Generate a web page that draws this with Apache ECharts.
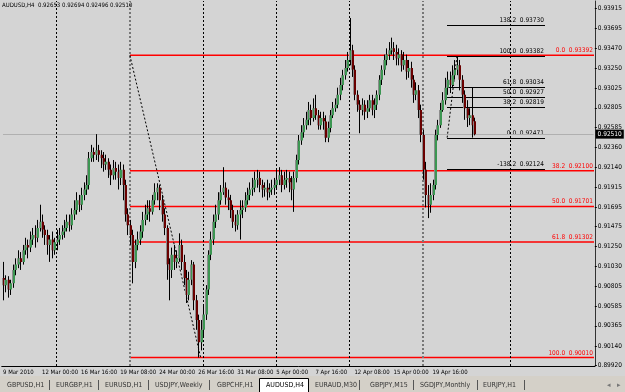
<!DOCTYPE html>
<html><head><meta charset="utf-8">
<script src="https://cdn.jsdelivr.net/npm/echarts@6/dist/echarts.min.js"></script>
<style>html,body{margin:0;padding:0;background:#d4d4d4;}#c{width:625px;height:392px;}</style>
</head><body><div id="c"></div>
<script>
const symbol = 'AUDUSD,H4';
const opens = [
.9090,.9082,.9088,.9077,.9084,.9099,.9105,.9112,.9108,.9121,
.9127,.9124,.9133,.9138,.9135,.9146,.9153,.9144,.9138,.9127,
.9133,.9121,.9130,.9133,.9138,.9142,.9146,.9153,.9149,.9161,
.9166,.9177,.9172,.9183,.9189,.9194,.9224,.9231,.9228,.9233,
.9228,.9224,.9217,.9220,.9211,.9205,.9213,.9209,.9202,.9211,
.9194,.9161,.9149,.9138,.9108,.9127,.9133,.9142,.9155,.9161,
.9168,.9164,.9177,.9186,.9191,.9177,.9161,.9146,.9105,.9099,
.9116,.9108,.9112,.9127,.9108,.9090,.9071,.9088,.9105,.9065,
.9043,.9018,.9032,.9049,.9077,.9116,.9133,.9153,.9161,.9177,
.9186,.9191,.9180,.9177,.9166,.9153,.9149,.9161,.9166,.9169,
.9177,.9183,.9189,.9191,.9200,.9202,.9194,.9189,.9191,.9186,
.9189,.9191,.9194,.9200,.9205,.9194,.9200,.9202,.9197,.9189,
.9202,.9222,.9244,.9253,.9261,.9267,.9278,.9269,.9280,.9272,
.9261,.9269,.9265,.9247,.9258,.9272,.9280,.9284,.9295,.9306,
.9317,.9325,.9334,.9345,.9323,.9295,.9284,.9278,.9284,.9276,
.9280,.9289,.9278,.9284,.9295,.9312,.9323,.9334,.9340,.9345,
.9347,.9343,.9336,.9340,.9328,.9334,.9321,.9325,.9312,.9295,
.9300,.9278,.9250,.9211,.9183,.9172,.9183,.9194,.9250,.9261,
.9278,.9289,.9303,.9312,.9306,.9317,.9323,.9328,.9312,.9295,
.9280,.9269,.9272,.92653];
const closes = [
.9082,.9088,.9077,.9084,.9099,.9105,.9112,.9108,.9121,.9127,
.9124,.9133,.9138,.9135,.9146,.9153,.9144,.9138,.9127,.9133,
.9121,.9130,.9133,.9138,.9142,.9146,.9153,.9149,.9161,.9166,
.9177,.9172,.9183,.9189,.9194,.9224,.9231,.9228,.9233,.9228,
.9224,.9217,.9220,.9211,.9205,.9213,.9209,.9202,.9211,.9194,
.9161,.9149,.9138,.9108,.9127,.9133,.9142,.9155,.9161,.9168,
.9164,.9177,.9186,.9191,.9177,.9161,.9146,.9105,.9099,.9116,
.9108,.9112,.9127,.9108,.9090,.9071,.9088,.9105,.9065,.9043,
.9018,.9032,.9049,.9077,.9116,.9133,.9153,.9161,.9177,.9186,
.9191,.9180,.9177,.9166,.9153,.9149,.9161,.9166,.9169,.9177,
.9183,.9189,.9191,.9200,.9202,.9194,.9189,.9191,.9186,.9189,
.9191,.9194,.9200,.9205,.9194,.9200,.9202,.9197,.9189,.9202,
.9222,.9244,.9253,.9261,.9267,.9278,.9269,.9280,.9272,.9261,
.9269,.9265,.9247,.9258,.9272,.9280,.9284,.9295,.9306,.9317,
.9325,.9334,.9345,.9323,.9295,.9284,.9278,.9284,.9276,.9280,
.9289,.9278,.9284,.9295,.9312,.9323,.9334,.9340,.9345,.9347,
.9343,.9336,.9340,.9328,.9334,.9321,.9325,.9312,.9295,.9300,
.9278,.9250,.9211,.9183,.9172,.9183,.9194,.9250,.9261,.9278,
.9289,.9303,.9312,.9306,.9317,.9323,.9328,.9312,.9295,.9280,
.9269,.9272,.9261,.92510];
const highs = [
.9108,.9093,.9092,.9088,.9105,.9112,.9121,.9119,.9127,.9135,
.9133,.9142,.9146,.9149,.9155,.9172,.9161,.9149,.9144,.9138,
.9142,.9135,.9144,.9146,.9149,.9155,.9161,.9161,.9168,.9177,
.9186,.9183,.9191,.9197,.9205,.9231,.9239,.9236,.9251,.9239,
.9233,.9231,.9228,.9224,.9217,.9222,.9220,.9217,.9220,.9217,
.9200,.9168,.9155,.9144,.9133,.9142,.9149,.9164,.9172,.9177,
.9177,.9183,.9196,.9196,.9194,.9183,.9168,.9149,.9112,.9124,
.9127,.9121,.9140,.9133,.9116,.9099,.9097,.9110,.9108,.9071,
.9049,.9043,.9060,.9082,.9121,.9142,.9161,.9172,.9186,.9194,
.9214,.9197,.9189,.9183,.9172,.9161,.9166,.9177,.9177,.9186,
.9191,.9197,.9202,.9209,.9211,.9209,.9200,.9197,.9200,.9196,
.9200,.9202,.9211,.9214,.9211,.9209,.9211,.9209,.9204,.9209,
.9228,.9250,.9261,.9269,.9276,.9287,.9284,.9291,.9295,.9278,
.9276,.9276,.9272,.9265,.9278,.9287,.9291,.9303,.9314,.9323,
.9334,.9343,.9381,.9351,.9328,.9300,.9289,.9291,.9289,.9289,
.9295,.9295,.9291,.9300,.9317,.9328,.9340,.9347,.9354,.9359,
.9354,.9351,.9347,.9345,.9343,.9340,.9334,.9332,.9317,.9309,
.9306,.9284,.9256,.9220,.9194,.9196,.9200,.9256,.9267,.9286,
.9298,.9314,.9321,.9321,.9328,.9334,.93382,.9334,.9317,.9300,
.9289,.9280,.9303,.92694];
const lows = [
.9065,.9074,.9068,.9071,.9079,.9093,.9101,.9099,.9105,.9116,
.9112,.9119,.9127,.9124,.9130,.9142,.9135,.9127,.9116,.9108,
.9112,.9116,.9121,.9127,.9133,.9135,.9142,.9142,.9144,.9155,
.9161,.9164,.9166,.9177,.9183,.9189,.9220,.9220,.9222,.9220,
.9213,.9209,.9211,.9202,.9194,.9200,.9200,.9189,.9194,.9177,
.9153,.9138,.9127,.9084,.9101,.9121,.9127,.9135,.9149,.9155,
.9153,.9161,.9172,.9177,.9166,.9153,.9138,.9088,.9065,.9090,
.9099,.9101,.9108,.9099,.9082,.9062,.9065,.9082,.9054,.9032,
.90010,.9009,.9023,.9043,.9071,.9110,.9127,.9146,.9155,.9172,
.9183,.9172,.9166,.9157,.9146,.9142,.9144,.9133,.9157,.9164,
.9172,.9177,.9182,.9186,.9191,.9186,.9180,.9181,.9177,.9180,
.9183,.9183,.9189,.9194,.9186,.9189,.9191,.9186,.9177,.9164,
.9197,.9217,.9239,.9247,.9256,.9261,.9261,.9265,.9267,.9256,
.9256,.9256,.9242,.9242,.9253,.9269,.9276,.9280,.9289,.9300,
.9312,.9321,.9328,.9315,.9289,.9276,.9252,.9272,.9267,.9269,
.9276,.9272,.9269,.9278,.9289,.9306,.9317,.9328,.9334,.9340,
.9334,.9328,.9328,.9321,.9323,.9312,.9314,.9303,.9286,.9289,
.9269,.9242,.9200,.9169,.9157,.9163,.9177,.9189,.9244,.9258,
.9276,.9284,.9295,.9297,.9303,.9312,.9317,.9300,.9286,.9267,
.9259,.9261,.92471,.92496];

const slotCount = 243;
const xTickLabels = ['9 Mar 2010','12 Mar 00:00','16 Mar 16:00','19 Mar 08:00','24 Mar 00:00','26 Mar 16:00','31 Mar 08:00','5 Apr 00:00','7 Apr 16:00','12 Apr 08:00','15 Apr 00:00','19 Apr 16:00','22 Apr 08:00'];
const xTickStep = 16;
const yTickValues = [0.93915,0.93695,0.93470,0.93250,0.93025,0.92805,0.92585,0.92360,0.92140,0.91915,0.91695,0.91475,0.91250,0.91030,0.90805,0.90585,0.90365,0.90140,0.89920];
const weekSeparators = [22,82,112,142,208];
const greySeparators = [52,172];
const redFibLevels = ['0.0','38.2','50.0','61.8','100.0'];
const redFibPrices = [0.93392,0.92100,0.91701,0.91302,0.90010];
const redFibRange = [52,242];
const redFibTrend = [[52,0.93392],[81,0.90010]];
const blackFibLevels = ['138.2','100.0','61.8','50.0','38.2','0.0','-138.2'];
const blackFibPrices = [0.93730,0.93382,0.93034,0.92927,0.92819,0.92471,0.92124];
const blackFibRange = [182,222];
const blackFibTrend = [[182,0.92471],[186,0.93382]];
const tabs = ['GBPUSD,H1','EURGBP,H1','EURUSD,H1','USDJPY,Weekly','GBPCHF,H1','AUDUSD,H4','EURAUD,M30','GBPJPY,M15','SGDJPY,Monthly','EURJPY,H1'];
const activeTab = 5;

const FONT = "'Liberation Sans Narrow','DejaVu Sans Condensed','Liberation Sans',sans-serif";
const last = closes.length - 1;
const candleData = opens.map((o, i) => [i, o, closes[i], lows[i], highs[i]]);
const cats = Array.from({length: slotCount}, (_, i) => String(i));
const isTick = (i) => i % xTickStep === 0 && i / xTickStep < xTickLabels.length;

const chart = echarts.init(document.getElementById('c'), null, {renderer: 'canvas'});

const tabX = [7,56,105,155,217,266,315,370,420,483];
const sepX = [49,98,148,209,359,413,477,524];
const graphics = [
  {type:'rect', left:0, top:376, shape:{width:625, height:16}, style:{fill:'#d4d0c8'}, z:1},
  {type:'rect', shape:{x:259.5, y:378.5, width:49, height:14}, style:{fill:'#fff', stroke:'#000', lineWidth:1}, z:2}
];
tabs.forEach((t, k) => graphics.push({type:'text', x: tabX[k], y: 385.5, z:3,
  style:{text:t, fill: k === activeTab ? '#000' : '#333', font: '7px ' + FONT, verticalAlign:'middle'}}));
sepX.forEach(x => graphics.push({type:'line', z:3, shape:{x1:x+0.5, y1:380, x2:x+0.5, y2:390}, style:{stroke:'#555', lineWidth:1}}));
graphics.push({type:'text', x:607, y:385.5, z:3, style:{text:'◂', fill:'#777', font:'7px sans-serif', verticalAlign:'middle'}});
graphics.push({type:'text', x:617, y:385.5, z:3, style:{text:'▸', fill:'#777', font:'7px sans-serif', verticalAlign:'middle'}});

const mlBase = {silent: true, symbol: 'none', animation: false};

function fibSeries(range, prices, levels, color, z, width, snap) {
  return {
    type: 'custom', z, silent: true, clip: false,
    data: prices.map((p, k) => [range[0], range[1], p, k]),
    encode: {x: [0, 1], y: 2},
    renderItem: (params, api) => {
      const p = api.value(2), k = api.value(3);
      const a = api.coord([api.value(0), p]), b = api.coord([api.value(1), p]);
      const y = snap ? Math.round(a[1]) + 0.5 : a[1];
      const x0 = Math.round(a[0]), x1 = Math.round(b[0]);
      return {type: 'group', children: [
        {type: 'line', shape: {x1: x0, y1: y, x2: x1, y2: y}, style: {stroke: color, lineWidth: width}},
        {type: 'text', x: x1 - 1, y: Math.round(a[1]) - 1, style: {text: levels[k] + '  ' + p.toFixed(5), fill: color,
          font: '6.5px ' + FONT, align: 'right', verticalAlign: 'bottom'}}
      ]};
    }
  };
}

chart.setOption({
  animation: false,
  backgroundColor: '#d4d4d4',
  title: {text: `${symbol}  ${opens[last].toFixed(5)} ${highs[last].toFixed(5)} ${lows[last].toFixed(5)} ${closes[last].toFixed(5)}`,
    left: 2, top: 2, padding: 0, textStyle: {fontSize: 6, fontWeight: 'normal', color: '#000', fontFamily: FONT}},
  grid: {left: -1.5, right: 25, top: 1, bottom: 26},
  xAxis: {
    type: 'category', data: cats, boundaryGap: true,
    axisLine: {lineStyle: {color: '#000'}},
    axisTick: {alignWithLabel: true, interval: (i) => isTick(i), length: 3, lineStyle: {color: '#000'}},
    axisLabel: {interval: (i) => isTick(i), formatter: (v, i) => isTick(i) ? xTickLabels[i / xTickStep] : '',
      align: 'left', margin: 3, fontSize: 6, color: '#000', fontFamily: FONT, showMinLabel: true, showMaxLabel: false},
    splitLine: {show: false}
  },
  yAxis: {
    type: 'value', position: 'right', min: 0.89915, max: 0.94000, scale: true,
    axisLine: {show: true, lineStyle: {color: '#333'}},
    axisTick: {show: true, length: 2, customValues: yTickValues, lineStyle: {color: '#000'}},
    axisLabel: {customValues: yTickValues, formatter: (v) => v.toFixed(5), fontSize: 6.5, margin: 3, color: '#000', fontFamily: FONT},
    splitLine: {show: false}
  },
  graphic: graphics,
  series: [
    { // bid line
      type: 'line', data: [], silent: true, z: 2,
      markLine: {...mlBase, lineStyle: {color: '#b0b0b0', type: 'solid', width: 1},
        data: [[{coord: [0, closes[last]]},
                {coord: [slotCount - 1, closes[last]],
                 label: {show: true, position: 'end', formatter: closes[last].toFixed(5), color: '#fff', backgroundColor: '#000',
                   fontSize: 6.5, fontFamily: FONT, padding: [1, 2, 1, 2], distance: 2}}]]}
    },
    { // weekly separators
      type: 'line', data: [], silent: true, z: 2,
      markLine: {...mlBase, lineStyle: {color: '#000', type: [2, 2], width: 1}, label: {show: false},
        data: weekSeparators.map(i => ({xAxis: i}))}
    },
    {
      type: 'line', data: [], silent: true, z: 2,
      markLine: {...mlBase, lineStyle: {color: '#777', type: [2, 2], width: 2}, label: {show: false},
        data: greySeparators.map(i => ({xAxis: i}))}
    },
    fibSeries(redFibRange, redFibPrices, redFibLevels, '#ff0000', 3, 1.5, false),
    fibSeries(blackFibRange, blackFibPrices, blackFibLevels, '#000000', 4, 1, true),
    { // fibo trend lines
      type: 'line', data: [], silent: true, z: 3,
      markLine: {...mlBase, lineStyle: {color: '#000', type: [2, 2], width: 1}, label: {show: false},
        data: [[{coord: redFibTrend[0]}, {coord: redFibTrend[1]}], [{coord: blackFibTrend[0]}, {coord: blackFibTrend[1]}]]}
    },
    {
      type: 'custom', data: candleData, encode: {x: 0, y: [1, 2, 3, 4]}, z: 5,
      renderItem: (params, api) => {
        const i = api.value(0), o = api.value(1), c = api.value(2), l = api.value(3), h = api.value(4);
        const pO = api.coord([i, o]), pC = api.coord([i, c]);
        const yL = api.coord([i, l])[1], yH = api.coord([i, h])[1];
        const x = Math.round(pO[0]) + 0.5;
        const bull = c >= o;
        const top = Math.min(pO[1], pC[1]);
        const bh = Math.max(1, Math.abs(pO[1] - pC[1]));
        return {type: 'group', children: [
          {type: 'line', shape: {x1: x, y1: yH, x2: x, y2: yL}, style: {stroke: '#000', lineWidth: 1}},
          {type: 'rect', shape: {x: x - 1.5, y: top, width: 1, height: bh}, style: {fill: '#8c8c8c'}},
          {type: 'rect', shape: {x: x - 0.5, y: top, width: 2, height: bh}, style: {fill: bull ? '#3c9652' : '#6a0000'}}
        ]};
      }
    }
  ]
});
</script></body></html>
